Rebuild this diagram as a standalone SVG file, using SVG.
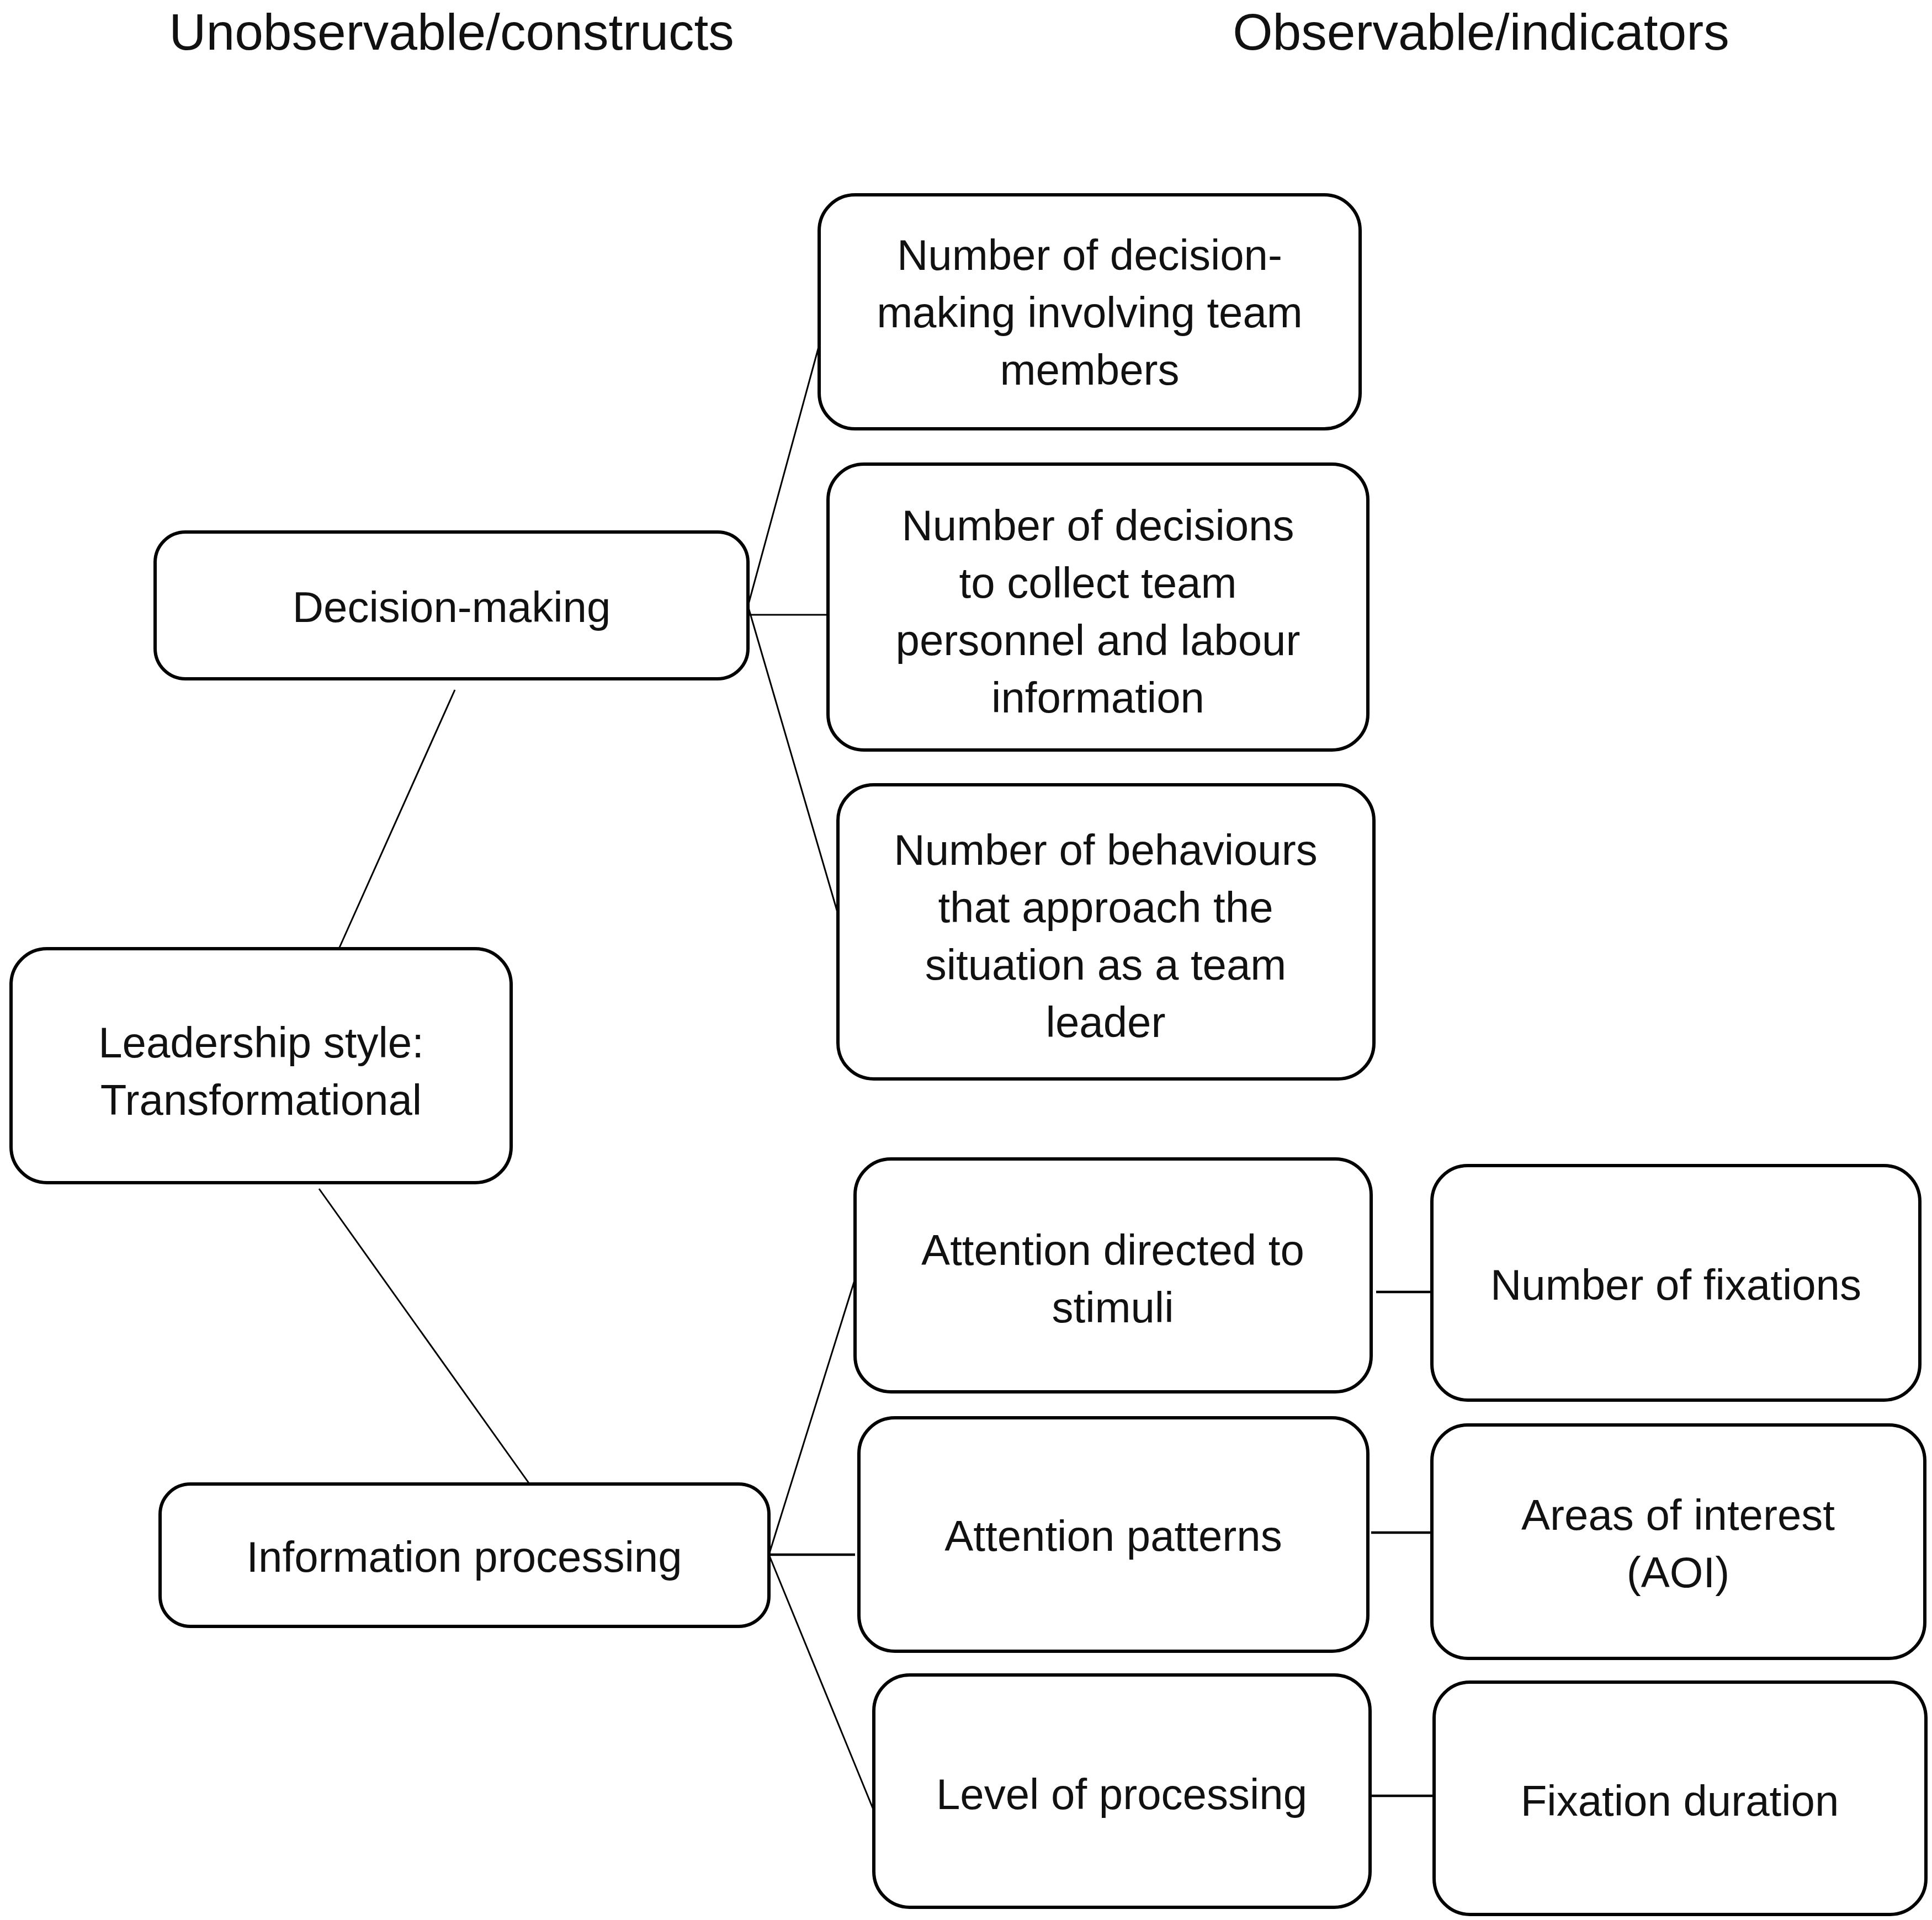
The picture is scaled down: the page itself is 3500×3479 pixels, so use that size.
<svg xmlns="http://www.w3.org/2000/svg" width="3500" height="3479" viewBox="0 0 3500 3479">
<style>
.box{fill:#fff;stroke:#000;stroke-width:6}
.t{font-family:"Liberation Sans",Arial,sans-serif;font-size:78px;fill:#111;text-anchor:middle}
.h{font-family:"Liberation Sans",Arial,sans-serif;font-size:93px;fill:#111;text-anchor:middle}
.c{stroke:#000;stroke-width:3;fill:none}
.c2{stroke:#000;stroke-width:4.5;fill:none}
</style>
<rect width="3500" height="3479" fill="#fff"/>
<text class="h" x="818" y="90">Unobservable/constructs</text>
<text class="h" x="2683" y="90">Observable/indicators</text>
<g id="connectors">
<line class="c" x1="1355" y1="1098" x2="1484" y2="625"/>
<line class="c" x1="1355" y1="1114" x2="1500" y2="1114"/>
<line class="c" x1="1355" y1="1098" x2="1518" y2="1656"/>
<line class="c" x1="614" y1="1719" x2="824" y2="1250"/>
<line class="c" x1="578" y1="2154" x2="960" y2="2690"/>
<line class="c" x1="1393" y1="2817" x2="1549" y2="2317"/>
<line class="c2" x1="1393" y1="2817" x2="1549" y2="2817"/>
<line class="c" x1="1393" y1="2817" x2="1583" y2="3281"/>
<line class="c2" x1="2493" y1="2341" x2="2592" y2="2341"/>
<line class="c2" x1="2484" y1="2777" x2="2592" y2="2777"/>
<line class="c2" x1="2484" y1="3254" x2="2596" y2="3254"/>
</g>
<g id="n-dm1">
<rect class="box" x="1484" y="353" width="980" height="424" rx="65"/>
<text class="t" x="1974" y="489">Number of decision-</text>
<text class="t" x="1974" y="593">making involving team</text>
<text class="t" x="1974" y="697">members</text>
</g>
<g id="n-dm2">
<rect class="box" x="1500" y="841" width="978" height="518" rx="65"/>
<text class="t" x="1989" y="979">Number of decisions</text>
<text class="t" x="1989" y="1083">to collect team</text>
<text class="t" x="1989" y="1187">personnel and labour</text>
<text class="t" x="1989" y="1291">information</text>
</g>
<g id="n-dm">
<rect class="box" x="281" y="964" width="1074" height="266" rx="55"/>
<text class="t" x="818" y="1127">Decision-making</text>
</g>
<g id="n-dm3">
<rect class="box" x="1518" y="1422" width="971" height="533" rx="65"/>
<text class="t" x="2003" y="1567">Number of behaviours</text>
<text class="t" x="2003" y="1671">that approach the</text>
<text class="t" x="2003" y="1775">situation as a team</text>
<text class="t" x="2003" y="1879">leader</text>
</g>
<g id="n-lead">
<rect class="box" x="20" y="1719" width="906" height="424" rx="65"/>
<text class="t" x="473" y="1916">Leadership style:</text>
<text class="t" x="473" y="2020">Transformational</text>
</g>
<g id="n-ad">
<rect class="box" x="1549" y="2100" width="935" height="422" rx="65"/>
<text class="t" x="2016" y="2292">Attention directed to</text>
<text class="t" x="2016" y="2396">stimuli</text>
</g>
<g id="n-nf">
<rect class="box" x="2594" y="2112" width="884" height="425" rx="65"/>
<text class="t" x="3036" y="2355">Number of fixations</text>
</g>
<g id="n-ip">
<rect class="box" x="290" y="2689" width="1103" height="258" rx="55"/>
<text class="t" x="841" y="2848">Information processing</text>
</g>
<g id="n-ap">
<rect class="box" x="1556" y="2569" width="922" height="423" rx="65"/>
<text class="t" x="2017" y="2810">Attention patterns</text>
</g>
<g id="n-aoi">
<rect class="box" x="2594" y="2582" width="893" height="423" rx="65"/>
<text class="t" x="3040" y="2772">Areas of interest</text>
<text class="t" x="3040" y="2876">(AOI)</text>
</g>
<g id="n-lp">
<rect class="box" x="1583" y="3035" width="899" height="421" rx="65"/>
<text class="t" x="2032" y="3278">Level of processing</text>
</g>
<g id="n-fd">
<rect class="box" x="2598" y="3048" width="891" height="421" rx="65"/>
<text class="t" x="3043" y="3290">Fixation duration</text>
</g>
</svg>
